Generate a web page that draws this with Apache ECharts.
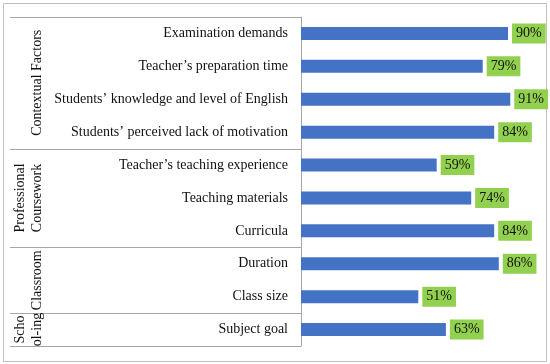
<!DOCTYPE html>
<html><head><meta charset="utf-8">
<script src="https://cdn.jsdelivr.net/npm/echarts@6/dist/echarts.min.js"></script>
<style>html,body{margin:0;padding:0;background:#fff}#c{width:550px;height:364px}</style>
</head><body><div id="c"></div>
<script>
const categories = ["Examination demands","Teacher\u2019s preparation time","Students\u2019 knowledge and level of English","Students\u2019 perceived lack of motivation","Teacher\u2019s teaching experience","Teaching materials","Curricula","Duration","Class size","Subject goal"];
const values = [90,79,91,84,59,74,84,86,51,63];
const groupNames = ["Contextual Factors","Professional\nCoursework","Classroom","Scho\nol-ing"];
const groupSizes = [4,3,2,1];

const FONT = '"Liberation Serif","DejaVu Serif",serif';
const chart = echarts.init(document.getElementById('c'));
chart.setOption({
  animation:false,
  grid:{left:301,right:19,top:17,bottom:18},
  xAxis:{type:'value',min:0,max:100,show:false},
  yAxis:{type:'category',data:categories,inverse:true,
    axisLine:{show:true,lineStyle:{color:'#a6a6a6',width:1}},
    axisTick:{show:false},
    axisLabel:{color:'#111',fontFamily:FONT,fontSize:14,margin:13}},
  series:[{type:'bar',data:values,barWidth:13,itemStyle:{color:'#4472C4'},
    label:{show:true,position:'right',distance:4,formatter:'{c}%',color:'#111',
      fontFamily:FONT,fontSize:14,backgroundColor:'#92D050',padding:[3,4,3,4],lineHeight:14}}]
});

function build(){
  const els = [];
  els.push({type:'rect',shape:{x:3.5,y:3.5,width:543,height:358},style:{fill:null,stroke:'#bfbfbf',lineWidth:1},silent:true});
  const y0 = chart.convertToPixel({yAxisIndex:0},0);
  const y1 = chart.convertToPixel({yAxisIndex:0},1);
  const band = y1-y0;
  const top = y0-band/2;
  const axisX = chart.convertToPixel({xAxisIndex:0},0);
  let idx = 0;
  const bounds=[top];
  groupSizes.forEach(s=>{idx+=s;bounds.push(top+idx*band);});
  bounds.forEach(b=>{
    const yy=Math.round(b)+0.5;
    els.push({type:'line',shape:{x1:10,y1:yy,x2:axisX,y2:yy},style:{stroke:'#a6a6a6',lineWidth:1},silent:true});
  });
  groupNames.forEach((g,i)=>{
    const cy=(bounds[i]+bounds[i+1])/2;
    const lines=g.split('\n').length;
    const cx = lines===2?29:37;
    els.push({type:'text',x:cx,y:cy,rotation:Math.PI/2,
      style:{text:g,fontFamily:FONT,fontSize:14,fill:'#111',align:'center',verticalAlign:'middle',lineHeight:17}});
  });
  chart.setOption({graphic:{elements:els}});
}
build();
</script></body></html>
